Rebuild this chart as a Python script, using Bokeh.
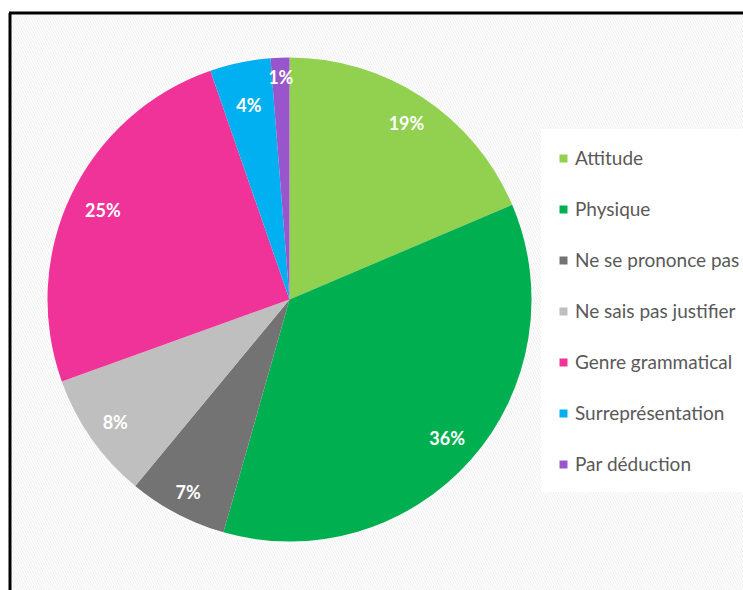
import numpy as np
from bokeh.plotting import figure
from bokeh.models import ColumnDataSource, Range1d, Legend, LegendItem
from bokeh.core.properties import value
from bokeh.embed import file_html
from bokeh.resources import INLINE

categories = ["Attitude", "Physique", "Ne se prononce pas", "Ne sais pas justifier",
              "Genre grammatical", "Surreprésentation", "Par déduction"]
values = [18.6, 35.8, 6.6, 8.5, 25.2, 4.05, 1.25]
labels = ["19%", "36%", "7%", "8%", "25%", "4%", "1%"]
colors = ["#92D050", "#00B050", "#737373", "#BFBFBF", "#F03399", "#00B0F0", "#9955CC"]

# layout: radial position of each data label, as a fraction of the radius
label_radius = [0.876, 0.868, 0.90, 0.88, 0.855, 0.82, 0.92]

W, H = 743, 590
CX, CY, R = 289, 291, 242

frac = np.array(values) / sum(values)
cum = np.concatenate([[0], np.cumsum(frac)])
start = np.pi / 2 - 2 * np.pi * cum[:-1]
end = np.pi / 2 - 2 * np.pi * cum[1:]
mid = (start + end) / 2
lr = np.array(label_radius) * R
lx = CX + lr * np.cos(mid)
ly = CY + lr * np.sin(mid)

src = ColumnDataSource(dict(category=categories, start=start, end=end, color=colors,
                            lx=lx, ly=ly, label=labels))

p = figure(width=W, height=H, output_backend="svg", toolbar_location=None,
           x_range=Range1d(0, W), y_range=Range1d(0, H), min_border=0,
           background_fill_color="white", border_fill_color="white")
p.axis.visible = False
p.grid.visible = False
p.outline_line_color = None

# hatched chart-area background
p.quad(left=11, right=W + 5, bottom=-5, top=576, fill_color="white", line_color=None,
       hatch_pattern="\\", hatch_color="#eeeeee", hatch_scale=5, hatch_weight=1)
# frame border (left + top)
p.segment(x0=[9.5, 8.5], y0=[-5, 577.5], x1=[9.5, W + 5], y1=[577.5, 577.5],
          line_color="black", line_width=3)

r = p.wedge(x=CX, y=CY, radius=R, start_angle="start", end_angle="end",
            direction="clock", fill_color="color", line_color=None, source=src)

p.text(x="lx", y="ly", text="label", source=src, text_color="white",
       text_font=value("Lato"), text_font_style="bold", text_font_size="18px",
       text_align="center", text_baseline="middle")

# square swatches for the legend (not drawn in the plot)
sw = ColumnDataSource(dict(l=[np.nan] * 7, r=[np.nan] * 7, b=[np.nan] * 7,
                           t=[np.nan] * 7, color=colors))
sq = p.quad(left="l", right="r", bottom="b", top="t", fill_color="color",
            line_color=None, source=sw)

items = [LegendItem(label=c, renderers=[sq], index=i) for i, c in enumerate(categories)]
legend = Legend(items=items, location=(541, 98), glyph_width=10, glyph_height=10,
                label_standoff=7, label_height=20, label_width=200, spacing=28, padding=16,
                label_text_font="Lato", label_text_font_size="19px",
                label_text_color="#595959", border_line_color="white",
                background_fill_color="white", background_fill_alpha=1.0, margin=0)
p.add_layout(legend, "center")

open("out.html", "w").write(file_html(p, INLINE))
